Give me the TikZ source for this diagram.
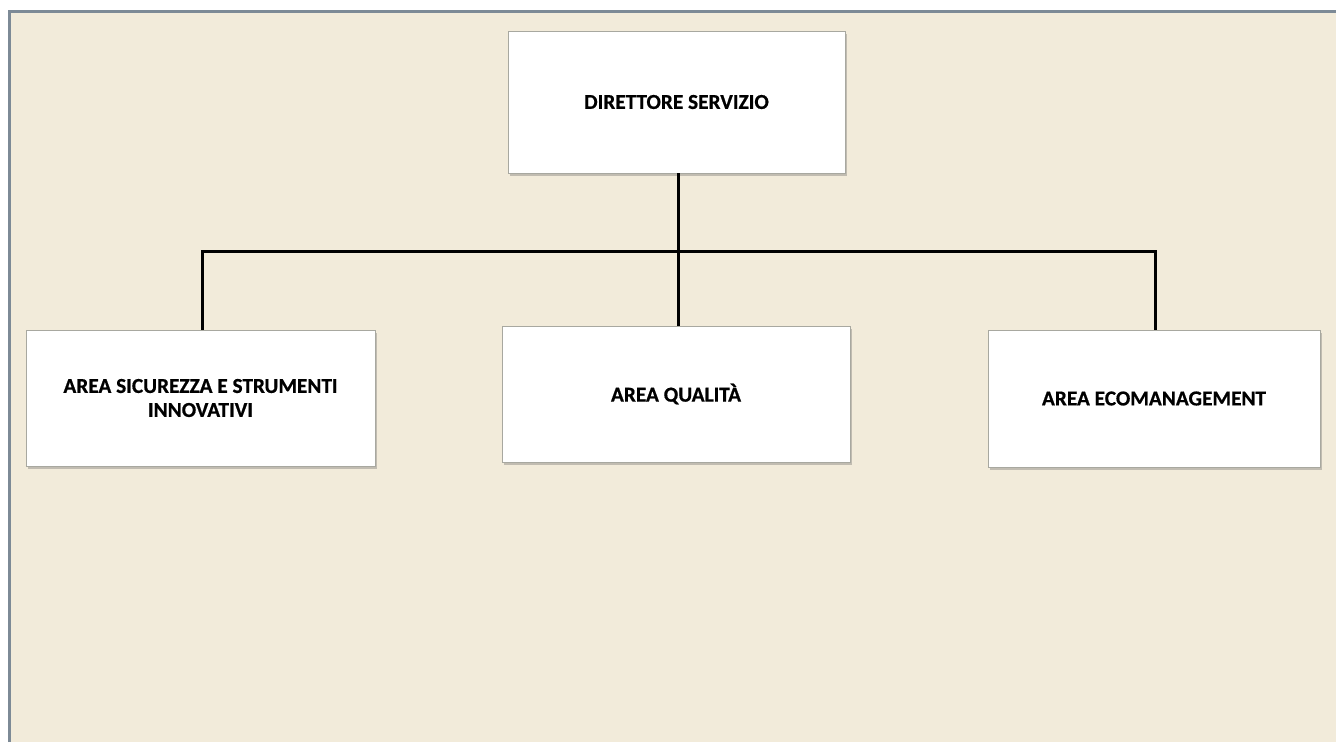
\documentclass[tikz,border=0pt]{standalone}
\usepackage{fontspec}
\setmainfont{Carlito}
\newfontfamily\boxfont[FakeBold=0.6]{Carlito Bold}
\usetikzlibrary{shadows}
\definecolor{bg}{HTML}{F2EBDA}
\definecolor{frame}{HTML}{7D8A96}
\definecolor{boxline}{HTML}{A8A8A0}
\tikzset{
  orgbox/.style={draw=boxline, line width=0.8pt, fill=white, minimum width=#1, inner sep=0pt, align=center,
    font=\boxfont\fontsize{21.3}{24}\selectfont,
    drop shadow={shadow xshift=2pt, shadow yshift=-3pt, opacity=0.35, fill=black!60}},
  link/.style={line width=3pt, black}
}
\begin{document}
\begin{tikzpicture}[x=1pt,y=-1pt]
\useasboundingbox (0,0) rectangle (1336,742);
\fill[white] (0,0) rectangle (1336,742);
\fill[bg] (8,10) rectangle (1336,742);
\draw[frame, line width=3pt] (9.5,742) -- (9.5,11.5) -- (1336,11.5);
\node[orgbox=337pt, minimum height=142pt] (dir) at (676.5,102) {DIRETTORE SERVIZIO};
\node[orgbox=349pt, minimum height=136pt] (sic) at (200.5,398) {AREA SICUREZZA E STRUMENTI\\INNOVATIVI};
\node[orgbox=348pt, minimum height=136pt] (qua) at (676,394) {AREA QUALITÀ};
\node[orgbox=332pt, minimum height=137pt] (eco) at (1154,398.5) {AREA ECOMANAGEMENT};
\coordinate (j) at (678,251);
\draw[link] (dir.south -| j) -- (j);
\draw[link] (sic.north -| 202,0) -- (202,251) -- (1155,251) -- (eco.north -| 1155,0);
\draw[link] (j) -- (qua.north -| j);
\end{tikzpicture}
\end{document}
